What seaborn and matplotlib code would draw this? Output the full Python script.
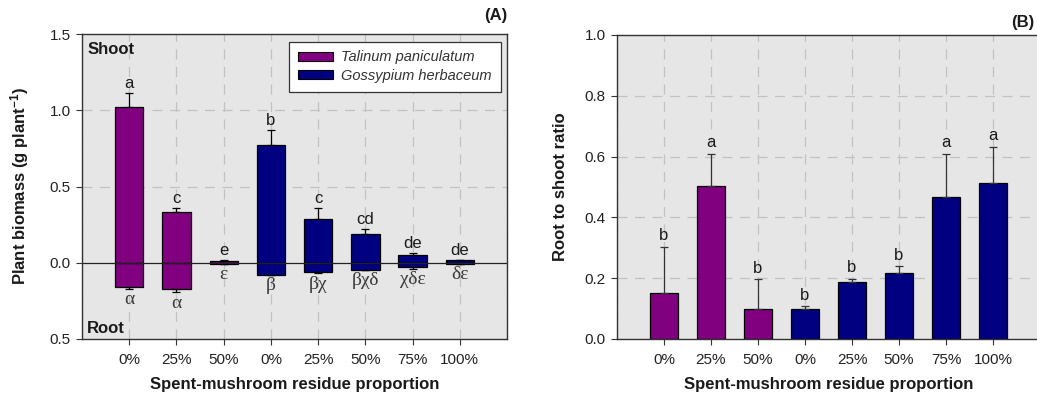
import numpy as np
import pandas as pd
import matplotlib
matplotlib.use("Agg")
import matplotlib.pyplot as plt
import seaborn as sns
from matplotlib.patches import Patch

# ---------------- data ----------------
categories = ["T 0%", "T 25%", "T 50%", "G 0%", "G 25%", "G 50%", "G 75%", "G 100%"]
tick_labels = ["0%", "25%", "50%", "0%", "25%", "50%", "75%", "100%"]
species = ["Talinum paniculatum"] * 3 + ["Gossypium herbaceum"] * 5

shoot = [1.02, 0.33, 0.012, 0.77, 0.29, 0.19, 0.053, 0.016]
shoot_err = [0.09, 0.03, 0.004, 0.10, 0.07, 0.03, 0.008, 0.004]
root = [0.156, 0.169, 0.005, 0.080, 0.059, 0.046, 0.028, 0.008]
root_err = [0.017, 0.026, 0.002, 0.003, 0.011, 0.003, 0.010, 0.002]
shoot_letters = ["a", "c", "e", "b", "c", "cd", "de", "de"]
root_letters = ["α", "α", "ε", "β", "βχ", "βχδ", "χδε", "δε"]

ratio = [0.150, 0.503, 0.099, 0.099, 0.189, 0.218, 0.468, 0.514]
ratio_err = [0.153, 0.106, 0.097, 0.008, 0.009, 0.022, 0.141, 0.119]
ratio_letters = ["b", "a", "b", "b", "b", "b", "a", "a"]

colors = {"Talinum paniculatum": "#800080", "Gossypium herbaceum": "#000080"}

# ---------------- style ----------------
sns.set_theme(style="white")
plt.rcParams["font.family"] = ["Liberation Sans", "DejaVu Sans"]
plt.rcParams["mathtext.fontset"] = "custom"
plt.rcParams["mathtext.rm"] = "Liberation Sans:bold"
plt.rcParams["mathtext.bf"] = "Liberation Sans:bold"
plt.rcParams["mathtext.default"] = "bf"

bg = "#e6e6e6"
gridc = "#c2c2c2"
txtc = "#1a1a1a"

dfA = pd.DataFrame({"cat": categories, "species": species,
                    "shoot": shoot, "root": [-r for r in root]})
dfB = pd.DataFrame({"cat": categories, "species": species, "ratio": ratio})

fig = plt.figure(figsize=(10.37, 3.97), dpi=100)
axA = fig.add_axes([82 / 1037, 1 - 339 / 397, 425 / 1037, 305 / 397])
axB = fig.add_axes([617 / 1037, 1 - 339 / 397, 423 / 1037, 304 / 397])

for ax in (axA, axB):
    ax.set_facecolor(bg)
    ax.set_axisbelow(True)

# ---- Panel A ----
for col in ("shoot", "root"):
    sns.barplot(data=dfA, x="cat", y=col, hue="species", order=categories,
                palette=colors, saturation=1, dodge=False, width=0.6,
                edgecolor="black", linewidth=0.9, errorbar=None, legend=False,
                ax=axA, zorder=3)
xpos = np.arange(len(categories))
axA.errorbar(xpos, shoot, yerr=[np.zeros(len(shoot)), shoot_err], fmt="none",
             ecolor="black", elinewidth=0.9, capsize=3, capthick=0.9, zorder=4)
axA.errorbar(xpos, [-r for r in root], yerr=[root_err, np.zeros(len(root))],
             fmt="none", ecolor="black", elinewidth=0.9, capsize=3,
             capthick=0.9, zorder=4)
axA.axhline(0, color="#222222", lw=0.9, zorder=5)
for i in range(len(categories)):
    axA.annotate(shoot_letters[i], (xpos[i], shoot[i] + shoot_err[i]),
                 xytext=(0, 1.5), textcoords="offset points", ha="center",
                 va="bottom", fontsize=12, color=txtc)
    axA.annotate(root_letters[i], (xpos[i], -(root[i] + root_err[i])),
                 xytext=(0, -1.5), textcoords="offset points", ha="center",
                 va="top", fontsize=14, color="#3a3a3a",
                 family=["Liberation Serif", "DejaVu Serif"])

axA.set_xlim(-1, 8)
axA.set_ylim(-0.5, 1.5)
axA.set_yticks([-0.5, 0.0, 0.5, 1.0, 1.5])
axA.set_yticklabels(["0.5", "0.0", "0.5", "1.0", "1.5"])
axA.set_xticks(xpos)
axA.set_xticklabels(tick_labels)
for yv in (0.5, 1.0):
    axA.axhline(yv, color=gridc, lw=0.9, ls=(0, (8, 6)), zorder=1)
for xv in range(-1, 9):
    axA.axvline(xv, color=gridc, lw=0.9, ls=(0, (8, 6)), zorder=1)
axA.set_xlabel("Spent-mushroom residue proportion", fontsize=12,
               fontweight="bold", color=txtc)
axA.set_ylabel(r"Plant biomass (g plant$^{-1}$)", fontsize=12,
               fontweight="bold", color=txtc)
axA.xaxis.set_label_coords(0.5, -0.125)
axA.yaxis.set_label_coords(-0.12, 0.5)
axA.text(0.012, 0.975, "Shoot", transform=axA.transAxes, ha="left", va="top",
         fontsize=12, fontweight="bold", color=txtc)
axA.text(0.012, 0.01, "Root", transform=axA.transAxes, ha="left", va="bottom",
         fontsize=12, fontweight="bold", color=txtc)
axA.text(1.0, 1.035, "(A)", transform=axA.transAxes, ha="right", va="bottom",
         fontsize=12, fontweight="bold", color=txtc)
handles = [Patch(facecolor=colors[s], edgecolor="black", linewidth=0.8, label=s)
           for s in ["Talinum paniculatum", "Gossypium herbaceum"]]
leg = axA.legend(handles=handles, loc="upper right",
                 bbox_to_anchor=(0.985, 0.975), frameon=True, fancybox=False,
                 edgecolor="#333333", framealpha=1, facecolor="white",
                 prop={"style": "italic", "size": 10.5}, handlelength=2.4,
                 handleheight=0.55, labelspacing=0.3, borderpad=0.6,
                 handletextpad=0.6, borderaxespad=0)
leg.get_frame().set_linewidth(0.9)
leg.set_zorder(10)
for t in leg.get_texts():
    t.set_color("#333333")

# ---- Panel B ----
sns.barplot(data=dfB, x="cat", y="ratio", hue="species", order=categories,
            palette=colors, saturation=1, dodge=False, width=0.6,
            edgecolor="black", linewidth=0.9, errorbar=None, legend=False,
            ax=axB, zorder=3)
axB.errorbar(xpos, ratio, yerr=[np.zeros(len(ratio)), ratio_err], fmt="none",
             ecolor="#333333", elinewidth=0.9, capsize=3, capthick=0.9, zorder=4)
for i in range(len(categories)):
    axB.annotate(ratio_letters[i], (xpos[i], ratio[i] + ratio_err[i]),
                 xytext=(0, 2.5), textcoords="offset points", ha="center",
                 va="bottom", fontsize=12, color=txtc)
axB.set_xlim(-1, 8)
axB.set_ylim(0, 1.0)
axB.set_yticks([0.0, 0.2, 0.4, 0.6, 0.8, 1.0])
axB.set_yticklabels(["0.0", "0.2", "0.4", "0.6", "0.8", "1.0"])
axB.set_xticks(xpos)
axB.set_xticklabels(tick_labels)
for yv in (0.2, 0.4, 0.6, 0.8):
    axB.axhline(yv, color=gridc, lw=0.9, ls=(0, (8, 6)), zorder=1)
for xv in range(-1, 9):
    axB.axvline(xv, color=gridc, lw=0.9, ls=(0, (8, 6)), zorder=1)
axB.set_xlabel("Spent-mushroom residue proportion", fontsize=12,
               fontweight="bold", color=txtc)
axB.set_ylabel("Root to shoot ratio", fontsize=12, fontweight="bold",
               color=txtc)
axB.xaxis.set_label_coords(0.5, -0.125)
axB.yaxis.set_label_coords(-0.115, 0.5)
fig.text(1034 / 1037, 1 - 30 / 397, "(B)", ha="right", va="bottom",
         fontsize=12, fontweight="bold", color=txtc)

for ax in (axA, axB):
    for s in ax.spines.values():
        s.set_visible(True)
        s.set_color("#333333")
        s.set_linewidth(1.0)
        s.set_zorder(6)
    ax.tick_params(axis="both", direction="out", length=4, width=0.8,
                   color="#333333", labelsize=11, labelcolor="#222222", pad=4,
                   bottom=True, left=True)
    ax.tick_params(axis="x", pad=6)

fig.savefig("out.png", dpi=100)
